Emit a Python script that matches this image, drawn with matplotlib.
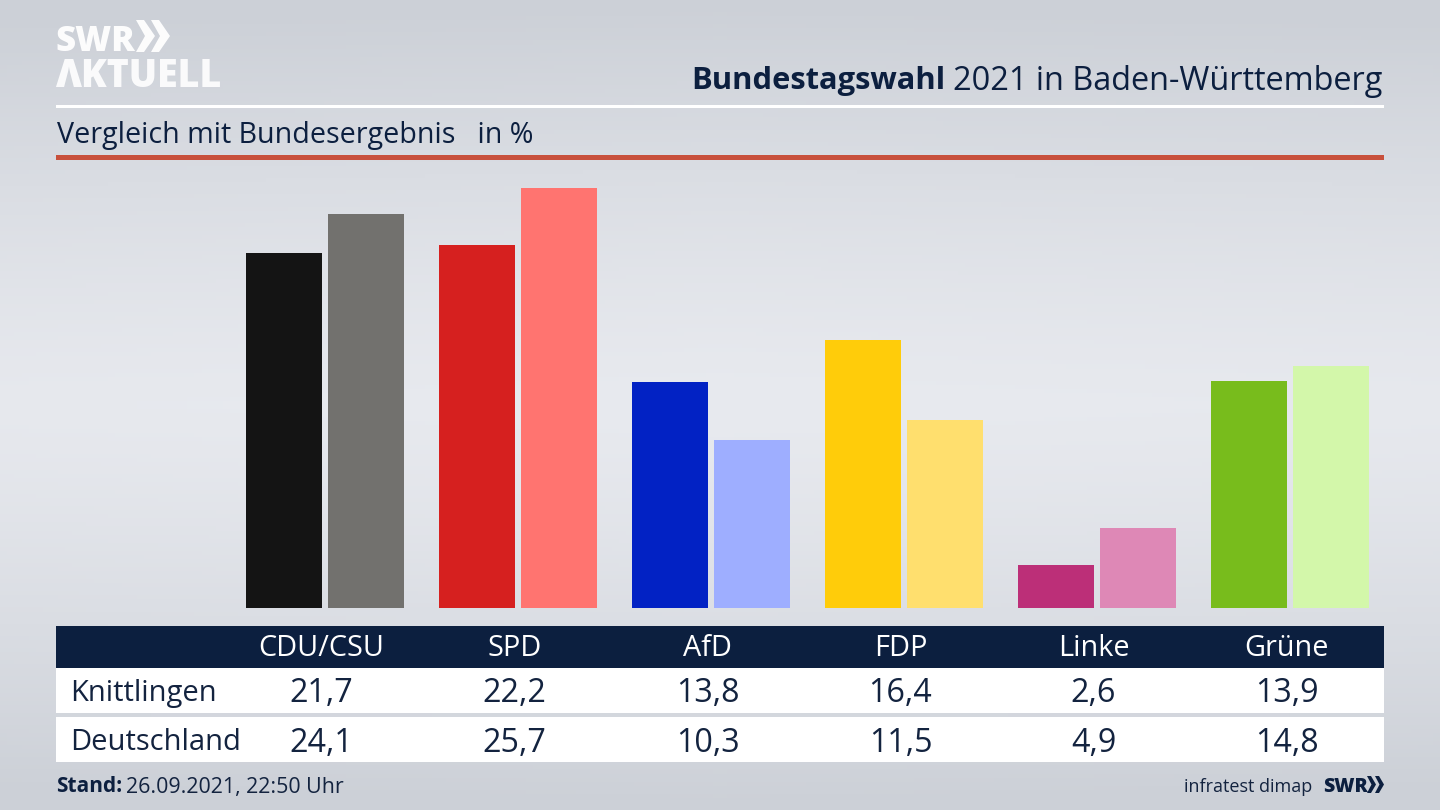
import numpy as np
import matplotlib.pyplot as plt
from matplotlib.patches import Polygon, Rectangle

plt.rcParams['font.family'] = ['Open Sans', 'DejaVu Sans']

# Data
parties = ['CDU/CSU', 'SPD', 'AfD', 'FDP', 'Linke', 'Grüne']
knittlingen = [21.7, 22.2, 13.8, 16.4, 2.6, 13.9]
deutschland = [24.1, 25.7, 10.3, 11.5, 4.9, 14.8]
colors_local = ['#141414', '#d6201f', '#0222c4', '#ffcc0a', '#bc2f78', '#78bc1c']
colors_federal = ['#72716e', '#ff7470', '#9eaeff', '#ffdf6e', '#de88b6', '#d3f7aa']

W, H = 1440, 810
navy = '#0c1f3f'
ink = '#13233f'

fig = plt.figure(figsize=(14.4, 8.1), dpi=100)

# Page in pixel coordinates, y pointing down
bg = fig.add_axes([0, 0, 1, 1])
bg.set_xlim(0, W)
bg.set_ylim(H, 0)
bg.axis('off')

# Background gradient
yy, xx = np.mgrid[0:1:200j, 0:1:200j]
shade = np.clip(np.abs(yy - 0.5) / 0.5, 0, 1) ** 1.3 + 0.05 * np.abs(xx - 0.5) / 0.5
shade = np.clip(shade, 0, 1)
top = np.array([0xe8, 0xea, 0xef]) / 255
edge = np.array([0xcc, 0xd0, 0xd7]) / 255
img = top[None, None, :] + (edge - top)[None, None, :] * shade[:, :, None]
bg.imshow(img, extent=[0, W, H, 0], aspect='auto', zorder=0)

# Logo
bg.text(55, 51, 'SWR', color='white', fontsize=25, fontweight='heavy', va='baseline', ha='left', alpha=0.95)
for x0 in (136, 151):
    bg.add_patch(Polygon([(x0, 20), (x0 + 8, 20), (x0 + 19, 36), (x0 + 8, 52), (x0, 52), (x0 + 9, 36)],
                         closed=True, fc='white', ec='none', alpha=0.95))
bg.text(55, 87, 'ΛKTUELL', color='white', fontsize=27, fontweight='heavy', va='baseline', ha='left', alpha=0.9)

# Header
bg.text(945, 81, 'Bundestagswahl', color=navy, fontsize=22.2, fontweight='bold', ha='right', va='center')
bg.text(953, 81, '2021 in Baden-Württemberg', color=navy, fontsize=23.4, ha='left', va='center')
bg.add_patch(Rectangle((56, 104.5), 1328, 3, fc='white', ec='none'))
bg.text(57, 135, 'Vergleich mit Bundesergebnis   in %', color=navy, fontsize=20.6, ha='left', va='center')
bg.add_patch(Rectangle((56, 155), 1328, 5, fc='#c8503c', ec='none'))

# Bars
px_per_pct = 16.35
group_step = 193
ax = fig.add_axes([56 / W, (H - 608) / H, 1328 / W, 448 / H])
ax.set_xlim((56 - 325) / group_step, (1384 - 325) / group_step)
ax.set_ylim(0, 448 / px_per_pct)
ax.patch.set_alpha(0)
ax.axis('off')
x = np.arange(len(parties))
offset = 41 / group_step
width = 76.5 / group_step
ax.bar(x - offset, knittlingen, width, color=colors_local)
ax.bar(x + offset, deutschland, width, color=colors_federal)

# Table
bg.add_patch(Rectangle((56, 626), 1328, 42, fc=navy, ec='none'))
bg.add_patch(Rectangle((56, 668), 1328, 45, fc='white', ec='none'))
bg.add_patch(Rectangle((56, 717), 1328, 45, fc='white', ec='none'))
bg.text(70, 694, 'Knittlingen', color=ink, fontsize=21, ha='left', va='center')
bg.text(70, 742, 'Deutschland', color=ink, fontsize=21, ha='left', va='center')

for i, name in enumerate(parties):
    cx = 321.5 + group_step * i
    bg.text(cx, 649, name, color='white', fontsize=20.8, ha='center', va='center')
    bg.text(cx, 694, f'{knittlingen[i]:.1f}'.replace('.', ','), color=ink, fontsize=23.2, ha='center', va='center')
    bg.text(cx, 743, f'{deutschland[i]:.1f}'.replace('.', ','), color=ink, fontsize=23.2, ha='center', va='center')

# Footer
bg.text(56, 787, 'Stand:', color=navy, fontsize=15, fontweight='bold', ha='left', va='center')
bg.text(126, 787, '26.09.2021, 22:50 Uhr', color=ink, fontsize=15.4, ha='left', va='center')
bg.text(1312, 787, 'infratest dimap', color=ink, fontsize=13, ha='right', va='center')
bg.text(1323, 787, 'SWR', color=navy, fontsize=14, fontweight='heavy', ha='left', va='center')
for x0 in (1367, 1375):
    bg.add_patch(Polygon([(x0, 776), (x0 + 4, 776), (x0 + 9, 784.5), (x0 + 4, 793), (x0, 793), (x0 + 4.5, 784.5)],
                         closed=True, fc=navy, ec='none'))

fig.savefig('out.png', dpi=100)
